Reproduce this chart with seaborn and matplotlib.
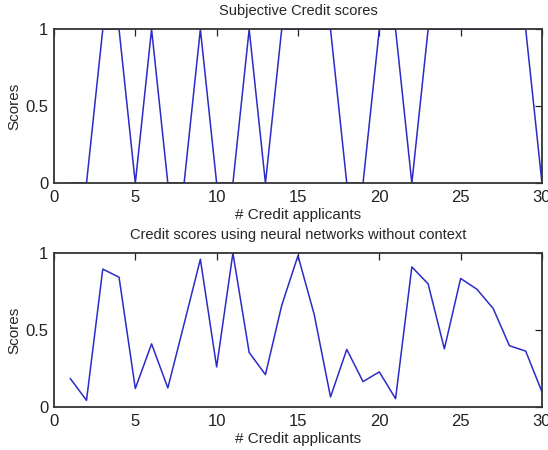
import matplotlib
matplotlib.use("Agg")
import matplotlib.pyplot as plt
import pandas as pd
import seaborn as sns

# Data
applicants = list(range(1, 31))
subjective_scores = [0, 0, 1, 1, 0, 1, 0, 0, 1, 0,
                     0, 1, 0, 1, 1, 1, 1, 0, 0, 1,
                     1, 0, 1, 1, 1, 1, 1, 1, 1, 0]
nn_scores = [0.185, 0.043, 0.896, 0.843, 0.12, 0.41, 0.124, 0.54, 0.96, 0.26,
             1.0, 0.354, 0.21, 0.66, 0.983, 0.60, 0.065, 0.374, 0.165, 0.228,
             0.054, 0.91, 0.80, 0.378, 0.835, 0.765, 0.64, 0.398, 0.363, 0.098]
x_ticks = [0, 5, 10, 15, 20, 25, 30]
y_ticks = [0, 0.5, 1]
y_tick_labels = ["0", "0.5", "1"]

sns.set_style("white")
plt.rcParams["font.family"] = ["Liberation Sans", "DejaVu Sans"]

df = pd.DataFrame({"applicant": applicants,
                   "subjective": subjective_scores,
                   "nn": nn_scores})

fig = plt.figure(figsize=(5.48, 4.5), dpi=100)
ax_top = fig.add_axes([0.0985, 0.593, 0.8905, 0.342])
ax_bot = fig.add_axes([0.0985, 0.0956, 0.8905, 0.342])

panels = [
    (ax_top, "subjective", "Subjective Credit scores"),
    (ax_bot, "nn", "Credit scores using neural networks without context"),
]

for ax, col, title in panels:
    sns.lineplot(data=df, x="applicant", y=col, ax=ax, color="#2b2bc8",
                 linewidth=1.1, zorder=1)
    ax.set_xlim(0, 30)
    ax.set_ylim(0, 1)
    ax.set_xticks(x_ticks)
    ax.set_yticks(y_ticks)
    ax.set_yticklabels(y_tick_labels)
    ax.tick_params(direction="in", length=5, width=0.9, labelsize=12,
                   top=True, right=True, colors="#222222")
    ax.tick_params(axis="x", pad=5)
    ax.tick_params(axis="y", pad=4)
    for s in ax.spines.values():
        s.set_color("#333333")
        s.set_linewidth(1.3)
        s.set_zorder(5)
    ax.set_title(title, fontsize=10.5, pad=10)
    ax.set_xlabel("# Credit applicants", fontsize=11, labelpad=2)
    ax.set_ylabel("Scores", fontsize=11, labelpad=3)

fig.savefig("out.png", dpi=100)
